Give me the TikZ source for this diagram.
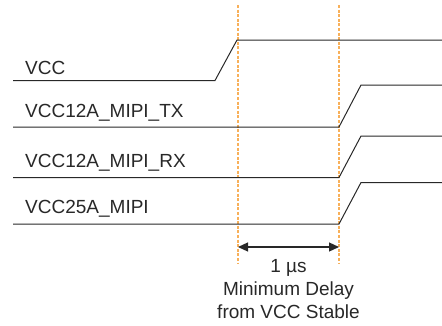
\documentclass[tikz,border=0pt]{standalone}
\usepackage{fontspec}
\setmainfont{Liberation Sans}
\usetikzlibrary{arrows.meta}
\definecolor{sigline}{RGB}{40,40,40}
\definecolor{markline}{RGB}{248,176,90}
\begin{document}
\begin{tikzpicture}[x=1pt,y=1pt]
\tikzset{
  wave/.style={draw=sigline, line width=1pt},
  marker/.style={draw=markline, line width=1.2pt, dash pattern=on 3pt off 1.6pt},
  siglabel/.style={anchor=base west, inner sep=0pt, font=\fontsize{19}{22}\selectfont, text=sigline},
  note/.style={align=center, inner sep=0pt, font=\fontsize{19}{23}\selectfont, text=sigline}
}
\useasboundingbox (0,0) rectangle (442,-325);
% markers
\coordinate (m1top) at (238,-5);
\coordinate (m1bot) at (238,-263);
\coordinate (m2top) at (339,-5);
\coordinate (m2bot) at (339,-263);
\draw [marker] (m1top) -- (m1bot);
\draw [marker] (m2top) -- (m2bot);
% VCC
\draw [wave] (13,-80.5) -- (215,-80.5) -- (237,-40) -- (442,-40);
\node [siglabel] (vcc) at (25,-74) {VCC};
% VCC12A_MIPI_TX
\draw [wave] (13,-127) -- (339,-127) -- (361,-85) -- (442,-85);
\node [siglabel] (tx) at (25,-117) {VCC12A\_MIPI\_TX};
% VCC12A_MIPI_RX
\draw [wave] (13,-177.5) -- (339,-177.5) -- (361,-136) -- (442,-136);
\node [siglabel] (rx) at (25,-167) {VCC12A\_MIPI\_RX};
% VCC25A_MIPI
\draw [wave] (13,-224) -- (339,-224) -- (361,-182.5) -- (442,-182.5);
\node [siglabel] (mipi) at (25,-213) {VCC25A\_MIPI};
% delay
\coordinate (dl) at (238,-247);
\coordinate (dr) at (339,-247);
\draw [draw=sigline, line width=1.2pt, {Triangle[length=10pt,width=9pt]}-{Triangle[length=10pt,width=9pt]}] (dl) -- (dr);
\node [note, anchor=base] (delay) at (288.5,-318) {1 µs\\Minimum Delay\\from VCC Stable};
\end{tikzpicture}
\end{document}
